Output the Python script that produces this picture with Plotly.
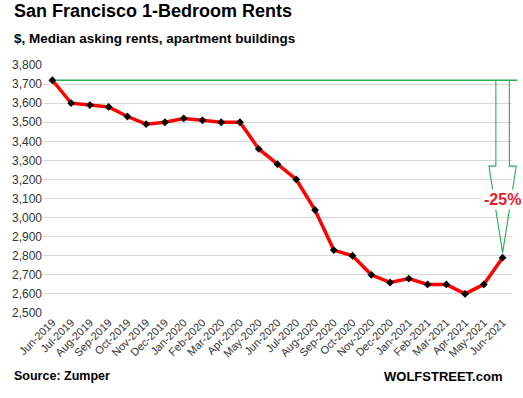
import plotly.graph_objects as go

months = ["Jun-2019","Jul-2019","Aug-2019","Sep-2019","Oct-2019","Nov-2019","Dec-2019",
          "Jan-2020","Feb-2020","Mar-2020","Apr-2020","May-2020","Jun-2020","Jul-2020",
          "Aug-2020","Sep-2020","Oct-2020","Nov-2020","Dec-2020","Jan-2021","Feb-2021",
          "Mar-2021","Apr-2021","May-2021","Jun-2021"]
rents = [3720, 3600, 3590, 3580, 3530, 3490, 3500, 3520, 3510, 3500, 3500, 3360, 3280,
         3200, 3040, 2830, 2800, 2700, 2660, 2680, 2650, 2650, 2600, 2650, 2790]
y_ticks = list(range(2500, 3801, 100))

Y0, Y1 = 2500, 3800
N = len(months)
X0, X1 = -0.5, N - 0.5

def px_(i):
    return (i - X0) / (X1 - X0)

def py_(v):
    return (v - Y0) / (Y1 - Y0)

xi = list(range(N))
fig = go.Figure()
fig.add_trace(go.Scatter(
    x=xi, y=rents, mode="lines+markers",
    line=dict(color="#ff0000", width=3.5),
    marker=dict(symbol="diamond", size=6, color="black"),
    cliponaxis=False, showlegend=False))

green = "#22b14c"
start, end = rents[0], rents[-1]
last = N - 1
# horizontal line from first point
fig.add_shape(type="line", xref="paper", yref="paper",
              x0=px_(0) + 0.008, x1=px_(last + 0.78), y0=py_(start), y1=py_(start),
              line=dict(color=green, width=1.3), layer="below")
# block arrow
sw, hw = 0.36, 0.73
head_top = start - 450
tip = end + 25
pts = [(last - sw, start), (last - sw, head_top), (last - hw, head_top), (last, tip),
       (last + hw, head_top), (last + sw, head_top), (last + sw, start)]
path = "M " + " L ".join(f"{px_(a):.5f},{py_(b):.5f}" for a, b in pts)
fig.add_shape(type="path", xref="paper", yref="paper", path=path,
              line=dict(color=green, width=1.1), fillcolor="rgba(0,0,0,0)", layer="above")

pct = round((end - start) / start * 100)
fig.add_annotation(x=last, y=end + 0.33 * (start - end), xref="x", yref="y",
                   text=f"<b>{pct}%</b>", showarrow=False, bgcolor="white",
                   font=dict(family="Liberation Sans, Arial", size=16, color="#e8202a"),
                   xanchor="center", yanchor="middle", borderpad=1)

fig.add_annotation(x=-31/469, y=1 + 42/248.5, xref="paper", yref="paper",
                   text="<b>San Francisco 1-Bedroom Rents</b>", showarrow=False,
                   xanchor="left", yanchor="bottom",
                   font=dict(family="Liberation Sans, Arial", size=18, color="black"))
fig.add_annotation(x=-31/469, y=1 + 17/248.5, xref="paper", yref="paper",
                   text="<b>$, Median asking rents, apartment buildings</b>", showarrow=False,
                   xanchor="left", yanchor="bottom",
                   font=dict(family="Liberation Sans, Arial", size=13.5, color="black"))
fig.add_annotation(x=-31/469, y=-(377 - 313.5) / 248.5, xref="paper", yref="paper",
                   text="<b>Source: Zumper</b>", showarrow=False,
                   xanchor="left", yanchor="middle",
                   font=dict(family="Liberation Sans, Arial", size=12.5, color="black"))
fig.add_annotation(x=(504 - 43) / 469, y=-(377 - 313.5) / 248.5, xref="paper", yref="paper",
                   text="<b>WOLFSTREET.com</b>", showarrow=False,
                   xanchor="right", yanchor="middle",
                   font=dict(family="Liberation Sans, Arial", size=13, color="black"))

fig.update_xaxes(range=[X0, X1], tickmode="array", tickvals=xi, ticktext=months,
                 tickangle=-45, showgrid=False, zeroline=False, showline=False,
                 ticks="", tickfont=dict(family="Liberation Sans, Arial", size=11, color="#333"))
fig.update_yaxes(range=[Y0, Y1], tickmode="array", tickvals=y_ticks,
                 ticktext=[f"{v:,}" for v in y_ticks], showgrid=True, gridcolor="#d9d9d9",
                 gridwidth=1, zeroline=False, showline=False, ticks="",
                 tickfont=dict(family="Liberation Sans, Arial", size=12, color="#333"))
fig.update_layout(width=523, height=398, margin=dict(l=43, r=11, t=65, b=84.5),
                  plot_bgcolor="white", paper_bgcolor="white")
fig.write_html("out.html", config={"displayModeBar": False},
               post_script="document.body.style.margin='0';")
